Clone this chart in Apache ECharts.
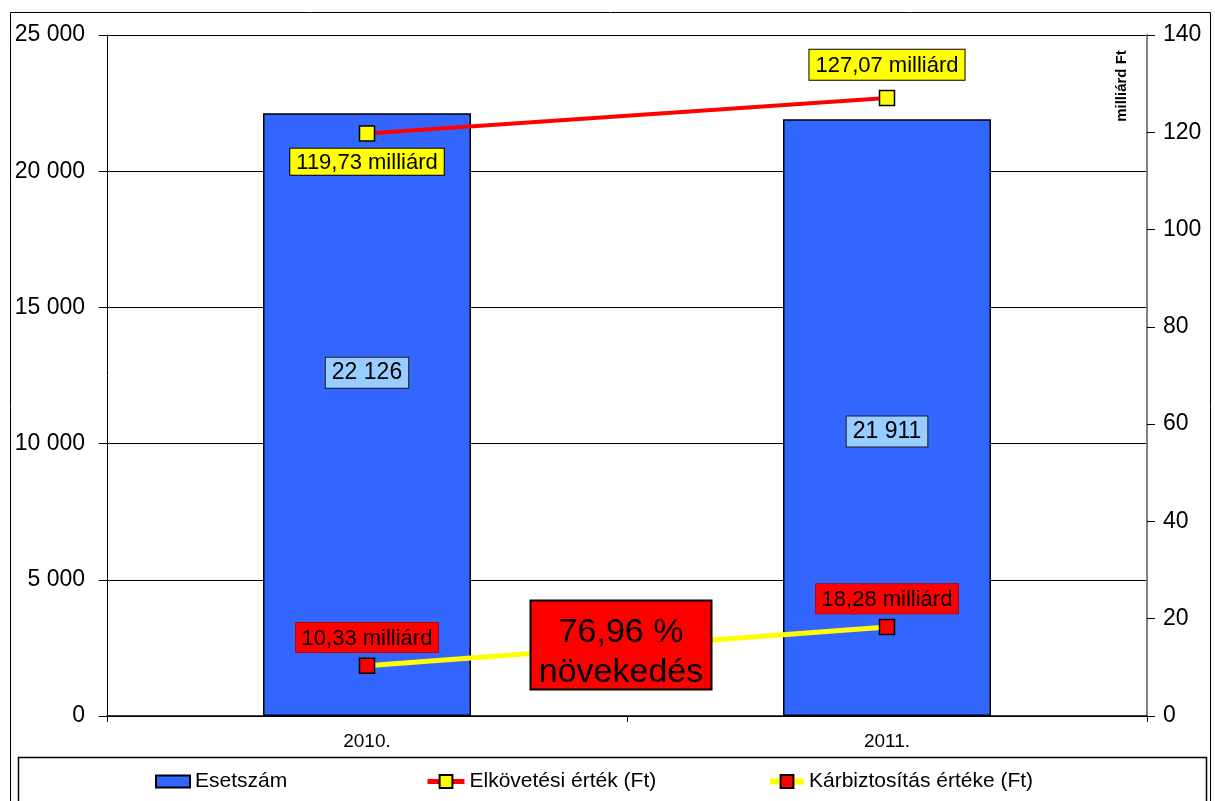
<!DOCTYPE html>
<html>
<head>
<meta charset="utf-8">
<script src="https://cdn.jsdelivr.net/npm/echarts@6/dist/echarts.min.js"></script>
<style>
html,body{margin:0;padding:0;background:#fff;}
#c{width:1215px;height:801px;}
</style>
</head>
<body>
<div id="c"></div>
<script>
// ---- data ----
var categories = ['2010.', '2011.'];
var esetszam = [22126, 21911];
var elkovetesi = [119.73, 127.07];
var karbiztositas = [10.33, 18.28];
var leftTicks = [0, 5000, 10000, 15000, 20000, 25000];
var rightTicks = [0, 20, 40, 60, 80, 100, 120, 140];

var FONT = '"Liberation Sans", Arial, sans-serif';

function fmtThousands(v) {
  return String(v).replace(/\B(?=(\d{3})+(?!\d))/g, ' ');
}
function fmtMilliard(v) {
  return v.toFixed(2).replace('.', ',') + ' milliárd';
}

var barLabelOffsets = [[0, -42], [0, 14]];
var elkLabelPos = ['bottom', 'top'];
var elkLabelDist = [7, 10];

var chart = echarts.init(document.getElementById('c'), null, {renderer: 'canvas'});

var legendCommon = {
  top: 766, itemGap: 4, padding: 5,
  textStyle: {fontFamily: FONT, fontSize: 21, color: '#000'}
};

var option = {
  animation: false,
  backgroundColor: '#ffffff',
  textStyle: {fontFamily: FONT},
  grid: {left: 107, right: 68, top: 35, bottom: 85, containLabel: false},
  legend: [
    Object.assign({}, legendCommon, {
      data: [{name: 'Esetszám', icon: 'rect'}],
      left: 150, itemWidth: 34, itemHeight: 12
    }),
    Object.assign({}, legendCommon, {
      data: [{name: 'Elkövetési érték (Ft)'}],
      left: 420, itemWidth: 37, itemHeight: 16,
      lineStyle: {width: 5}
    }),
    Object.assign({}, legendCommon, {
      data: [{name: 'Kárbiztosítás értéke (Ft)'}],
      left: 762, itemWidth: 34, itemHeight: 16,
      lineStyle: {width: 6}
    })
  ],
  xAxis: {
    type: 'category',
    data: categories,
    axisLine: {lineStyle: {color: '#000', width: 1.5}},
    axisTick: {show: true, length: 6, lineStyle: {color: '#000'}},
    axisLabel: {fontFamily: FONT, fontSize: 19, color: '#000', margin: 16},
    splitLine: {show: false}
  },
  yAxis: [
    {
      type: 'value', min: leftTicks[0], max: leftTicks[leftTicks.length - 1], interval: 5000,
      axisLine: {show: true, lineStyle: {color: '#000', width: 1}},
      axisTick: {show: true, length: 8, lineStyle: {color: '#000'}},
      axisLabel: {fontFamily: FONT, fontSize: 23, color: '#000', margin: 22, formatter: fmtThousands},
      splitLine: {show: true, lineStyle: {color: '#000', width: 1}}
    },
    {
      type: 'value', min: rightTicks[0], max: rightTicks[rightTicks.length - 1], interval: 20,
      position: 'right',
      axisLine: {show: true, lineStyle: {color: '#808080', width: 2}},
      axisTick: {show: true, length: 8, lineStyle: {color: '#000'}},
      axisLabel: {fontFamily: FONT, fontSize: 23, color: '#000', margin: 16},
      splitLine: {show: false}
    }
  ],
  series: [
    {
      name: 'Esetszám',
      type: 'bar',
      yAxisIndex: 0,
      barWidth: '40%',
      itemStyle: {color: '#3366FF', borderColor: '#000', borderWidth: 1.5},
      data: esetszam.map(function (v, i) {
        return {
          value: v,
          label: {
            show: true, position: 'inside', offset: barLabelOffsets[i],
            formatter: function (p) { return fmtThousands(p.value); },
            fontFamily: FONT, fontSize: 23, color: '#000',
            backgroundColor: '#99CCFF', borderColor: '#1a1a1a', borderWidth: 1,
            padding: [4, 6, 3, 6]
          }
        };
      }),
      z: 2
    },
    {
      name: 'Elkövetési érték (Ft)',
      type: 'line',
      yAxisIndex: 1,
      symbol: 'rect',
      symbolSize: 15,
      lineStyle: {color: '#FF0000', width: 4},
      itemStyle: {color: '#FFFF00', borderColor: '#000', borderWidth: 1.5},
      data: elkovetesi.map(function (v, i) {
        return {
          value: v,
          label: {
            show: true, position: elkLabelPos[i], distance: elkLabelDist[i],
            formatter: function (p) { return fmtMilliard(p.value); },
            fontFamily: FONT, fontSize: 22, color: '#000',
            backgroundColor: '#FFFF00', borderColor: '#000', borderWidth: 1,
            padding: i === 0 ? [3, 6, 1, 6] : [5, 6, 3, 6]
          }
        };
      }),
      z: 5
    },
    {
      name: 'Kárbiztosítás értéke (Ft)',
      type: 'line',
      yAxisIndex: 1,
      symbol: 'rect',
      symbolSize: 15,
      lineStyle: {color: '#FFFF00', width: 5},
      itemStyle: {color: '#FF0000', borderColor: '#000', borderWidth: 1.5},
      data: karbiztositas.map(function (v) {
        return {
          value: v,
          label: {
            show: true, position: 'top', distance: 5,
            formatter: function (p) { return fmtMilliard(p.value); },
            fontFamily: FONT, fontSize: 22, color: '#000',
            backgroundColor: '#FF0000', borderColor: '#800000', borderWidth: 0.5,
            padding: [5, 6, 3, 6]
          }
        };
      }),
      z: 5
    }
  ],
  graphic: [
    {
      type: 'rect', silent: true, z: -1,
      shape: {x: 10.5, y: 12.5, width: 1200, height: 820},
      style: {fill: null, stroke: '#000', lineWidth: 1}
    },
    {
      type: 'rect', silent: true, z: -1,
      shape: {x: 18.5, y: 757.5, width: 1188, height: 80},
      style: {fill: null, stroke: '#000', lineWidth: 1.5}
    },
    {
      type: 'text', silent: true, z: 10,
      x: 1122, y: 86, rotation: Math.PI / 2,
      style: {
        text: 'milliárd Ft', fontFamily: FONT, fontSize: 15, fontWeight: 'bold',
        fill: '#000', align: 'center', verticalAlign: 'middle'
      }
    },
    {
      type: 'rect', silent: true, z: 100, zlevel: 1,
      shape: {x: 530.5, y: 600.5, width: 181, height: 89},
      style: {fill: '#FF0000', stroke: '#000', lineWidth: 2}
    },
    {
      type: 'text', silent: true, z: 101, zlevel: 1,
      x: 621, y: 653,
      style: {
        text: '76,96 %\nnövekedés', fontFamily: FONT, fontSize: 34,
        lineHeight: 40, fill: '#000', align: 'center', verticalAlign: 'middle'
      }
    }
  ]
};

chart.setOption(option);
</script>
</body>
</html>
